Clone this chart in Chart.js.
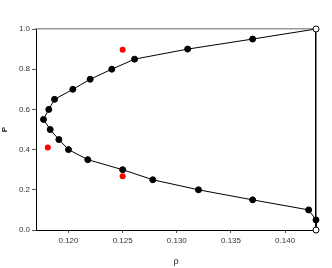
<!DOCTYPE html>
<html><head><meta charset="utf-8">
<script src="https://cdn.jsdelivr.net/npm/chart.js@4/dist/chart.umd.min.js"></script>
<style>html,body{margin:0;padding:0;background:#fff}#wrap{width:332px;height:268px}</style>
</head><body><div id="wrap"><canvas id="c" width="332" height="268"></canvas></div>
<script>
const curveRho = [0.14285,0.137,0.131,0.1261,0.124,0.122,0.1204,0.11871,0.11818,0.11769,0.11831,0.11911,0.1200,0.12178,0.125,0.12778,0.132,0.137,0.14217,0.14285,0.14285];
const curveP   = [1.0,0.95,0.90,0.85,0.80,0.75,0.70,0.65,0.60,0.55,0.50,0.45,0.40,0.35,0.30,0.25,0.20,0.15,0.10,0.05,0.0];
const openEnds = [true,false,false,false,false,false,false,false,false,false,false,false,false,false,false,false,false,false,false,false,true];
const redRho = [0.125,0.11809,0.125];
const redP   = [0.897,0.41,0.267];
const xTicks = [0.120,0.125,0.130,0.135,0.140];
const yTicks = [0.0,0.2,0.4,0.6,0.8,1.0];
const xMin = 0.117, xMax = 0.14285;

const FONT = "'Liberation Sans', Arial, sans-serif";
new Chart(document.getElementById('c'), {
  type: 'scatter',
  data: {
    datasets: [
      {
        data: curveRho.map((x,i)=>({x:x,y:curveP[i]})),
        showLine: true,
        clip: false,
        borderColor: '#000',
        borderWidth: 1,
        pointRadius: 3,
        pointBorderWidth: 1,
        pointBorderColor: '#000',
        pointBackgroundColor: openEnds.map(o=>o?'#fff':'#000'),
        order: 1
      },
      {
        data: redRho.map((x,i)=>({x:x,y:redP[i]})),
        showLine: false,
        clip: false,
        pointRadius: 3,
        pointBorderWidth: 0,
        pointBackgroundColor: '#ff0000',
        pointBorderColor: '#ff0000',
        order: 2
      }
    ]
  },
  options: {
    responsive: false,
    animation: false,
    layout: { padding: { left: 0, top: 29, right: 16, bottom: 0 } },
    plugins: { legend: { display: false }, tooltip: { enabled: false } },
    scales: {
      x: {
        type: 'linear', position: 'bottom', min: xMin, max: xMax,
        afterFit: s => { s.height = 38; },
        afterBuildTicks: s => { s.ticks = xTicks.map(v=>({value:v})); },
        grid: { drawOnChartArea: false, drawTicks: true, tickLength: 3, color: '#555' },
        border: { color: '#000', width: 1 },
        ticks: { color: '#333', font: { family: FONT, size: 8 }, padding: 3, maxRotation: 0, callback: v => v.toFixed(3) },
        title: { display: true, text: 'ρ', color: '#222', font: { family: FONT, size: 9 }, padding: { top: 0, bottom: 1 } }
      },
      y: {
        type: 'linear', position: 'left', min: 0, max: 1,
        afterFit: s => { s.width = 36; },
        afterBuildTicks: s => { s.ticks = yTicks.map(v=>({value:v})); },
        grid: { drawOnChartArea: false, drawTicks: true, tickLength: 4, color: '#555' },
        border: { color: '#000', width: 1 },
        ticks: { color: '#333', font: { family: FONT, size: 8 }, padding: 2, callback: v => v.toFixed(1) },
        title: { display: true, text: 'P', color: '#222', font: { family: FONT, size: 8, weight: 'bold' }, padding: { top: 0, bottom: 0 } }
      },
      x2: {
        type: 'linear', position: 'top', min: xMin, max: xMax,
        afterFit: s => { s.height = 0; },
        grid: { display: false, drawTicks: false },
        border: { color: '#999', width: 1.5 },
        ticks: { display: false }
      },
      y2: {
        type: 'linear', position: 'right', min: 0, max: 1,
        afterFit: s => { s.width = 0; },
        grid: { display: false, drawTicks: false },
        border: { color: '#000', width: 1.5 },
        ticks: { display: false }
      }
    }
  }
});
</script></body></html>
